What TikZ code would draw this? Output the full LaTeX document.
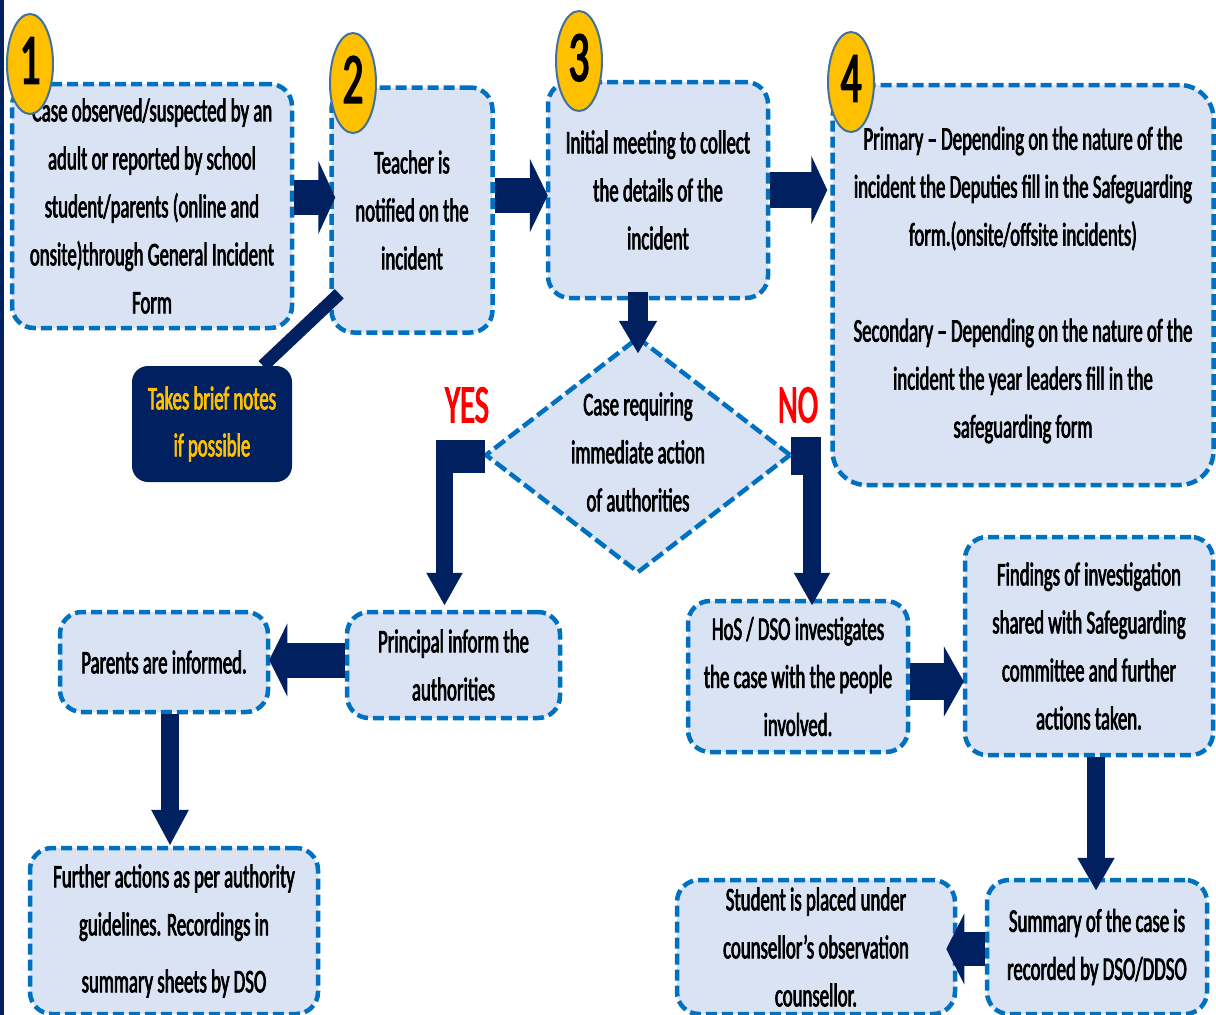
\documentclass[tikz,border=0pt]{standalone}
\usepackage{fontspec}
\setmainfont{Carlito}[FakeStretch=0.57, FakeBold=2.2]
\usetikzlibrary{shapes.geometric, arrows.meta, calc}
\definecolor{navy}{HTML}{002060}
\definecolor{bord}{HTML}{0070C0}
\definecolor{boxfill}{HTML}{DAE3F3}
\definecolor{gold}{HTML}{FFC000}
\definecolor{ringc}{HTML}{41719C}
\definecolor{yesred}{HTML}{FF0000}
\tikzset{
  stepbox/.style={draw=bord, fill=boxfill, line width=4.5pt, dash pattern=on 11pt off 5pt,
    rounded corners=22pt, align=center, inner sep=0pt, font=\fontsize{33}{48}\selectfont},
  numbadge/.style={ellipse, draw=ringc, line width=2pt, fill=gold, minimum width=46pt,
    minimum height=100pt, inner sep=0pt, font=\fontsize{72}{72}\selectfont},
  barrow/.style n args={3}{draw=navy, line width=#1pt, -{Triangle[length=#3pt,width=#2pt]}},
  notebox/.style={fill=navy, rounded corners=16pt, align=center, inner sep=0pt,
    text=gold, font=\fontsize{33}{47}\selectfont},
  answer/.style={text=yesred, font=\fontsize{54}{54}\selectfont},
}
\begin{document}
\begin{tikzpicture}[x=1pt, y=-1pt]
\useasboundingbox (0,0) rectangle (1216,1015);
\fill[navy] (0,0) rectangle (4,1015);

% boxes
\node[stepbox, minimum width=280pt, minimum height=244pt] (b1) at (152,206)
  {Case observed/suspected by an\\adult or reported by school\\student/parents (online and\\onsite)through General Incident\\Form};
\node[stepbox, minimum width=161pt, minimum height=245pt] (b2) at (412,210)
  {Teacher is\\notified on the\\incident};
\node[stepbox, minimum width=220pt, minimum height=216pt] (b3) at (658,190)
  {Initial meeting to collect\\the details of the\\incident};
\node[stepbox, minimum width=381pt, minimum height=400pt, rounded corners=34pt] (b4) at (1023,285)
  {Primary – Depending on the nature of the\\incident the Deputies fill in the Safeguarding\\form.(onsite/offsite incidents)\\[48pt]
   Secondary – Depending on the nature of the\\incident the year leaders fill in the\\safeguarding form};
\node[diamond, draw=bord, fill=boxfill, line width=4.5pt, dash pattern=on 13pt off 5pt,
  minimum width=306pt, minimum height=236pt, inner sep=0pt] (dia) at (638,455) {};
\node[align=center, font=\fontsize{33}{48}\selectfont] (diatext) at (638,452)
  {Case requiring\\immediate action\\of authorities};
\node[stepbox, minimum width=213pt, minimum height=106pt] (principal) at (453.5,665)
  {Principal inform the\\authorities};
\node[stepbox, minimum width=208pt, minimum height=100pt] (parents) at (164,662)
  {Parents are informed.};
\node[stepbox, minimum width=288pt, minimum height=166pt] (further) at (174,931)
  {Further actions as per authority\\guidelines. Recordings in\\[9pt]summary sheets by DSO};
\node[stepbox, minimum width=220pt, minimum height=151pt] (hos) at (798,676.5)
  {HoS / DSO investigates\\the case with the people\\involved.};
\node[stepbox, minimum width=248pt, minimum height=218pt] (findings) at (1089,646)
  {Findings of investigation\\shared with Safeguarding\\committee and further\\actions taken.};
\node[stepbox, minimum width=220pt, minimum height=134pt] (summary) at (1097,947)
  {Summary of the case is\\recorded by DSO/DDSO};
\node[stepbox, minimum width=278pt, minimum height=134pt] (student) at (816,947)
  {Student is placed under\\counsellor’s observation\\counsellor.};

% labels
\node[answer] (yes) at (467,405) {YES};
\node[answer] (no) at (798,405) {NO};

% block arrows
\draw[barrow={35}{73}{17}] (b1.east |- 0,197.5) -- ([xshift=6pt]b2.west |- 0,197.5);
\draw[barrow={35}{73}{18}] (b2.east |- 0,195.5) -- ([xshift=2pt]b3.west |- 0,195.5);
\draw[barrow={36}{68}{16}] (b3.east |- 0,190) -- ([xshift=-3pt]b4.west |- 0,190);
\draw[barrow={20}{36}{33}] (dia.north |- 0,292) -- ([yshift=-19pt]dia.north);

\fill[navy] ($(dia.west)+(2,-15)$) rectangle (436,473);
\coordinate (yesc) at (444.5,440);
\draw[barrow={17}{34}{33}] (yesc) -- ([yshift=4pt]principal.north -| yesc);

\fill[navy] ($(dia.east)+(-2,-18)$) rectangle (821,475);
\coordinate (noc) at (812,437);
\draw[barrow={18}{34}{33}] (noc) -- ([yshift=-7pt]hos.north -| noc);

\draw[barrow={37}{70}{20}] (hos.east |- 0,681.5) -- ([xshift=1pt]findings.west |- 0,681.5);
\draw[barrow={18}{35}{33}] (findings.south -| 1096,0) -- ([yshift=-13pt]summary.north -| 1096,0);
\draw[barrow={34}{70}{18}] (summary.west |- 0,949) -- ([xshift=-11pt]student.east |- 0,949);
\draw[barrow={35}{72}{18}] (principal.west |- 0,660) -- ([xshift=-1pt]parents.east |- 0,660);
\draw[barrow={18}{35}{36}] (parents.south -| 170,0) -- (further.north -| 170,0);

% number badges
\node[numbadge] (n1) at (30,64) {\raisebox{7pt}{1}};
\node[numbadge] (n2) at (353,83) {\raisebox{7pt}{2}};
\node[numbadge] (n3) at (579,61) {\raisebox{7pt}{3}};
\node[numbadge] (n4) at (851,82) {\raisebox{7pt}{4}};

% note callout
\node[notebox, minimum width=160pt, minimum height=116pt] (notes) at (212,424)
  {Takes brief notes\\if possible};
\draw[navy, line width=13pt] (notes.north -| 263,0) -- ($(b2.south west)+(10,-41)$);
\end{tikzpicture}
\end{document}
